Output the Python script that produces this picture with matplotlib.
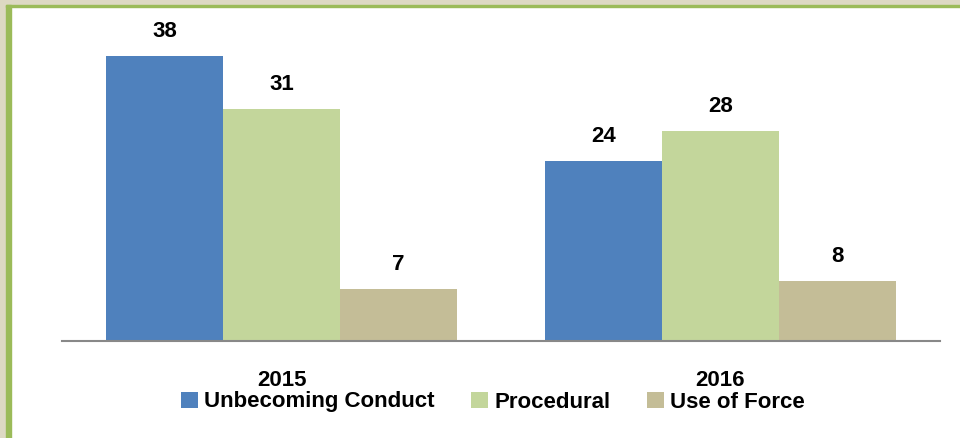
import numpy as np
import matplotlib.pyplot as plt
from matplotlib.patches import Rectangle

years = ["2015", "2016"]
series = ["Unbecoming Conduct", "Procedural", "Use of Force"]
unbecoming = [38, 24]
procedural = [31, 28]
use_of_force = [7, 8]
values = [unbecoming, procedural, use_of_force]
colors = ["#4F81BD", "#C3D69B", "#C4BD97"]

plt.rcParams['font.family'] = ['Liberation Sans', 'DejaVu Sans']
fs = 16

fig = plt.figure(figsize=(9.6, 4.38), dpi=100)
fig.patch.set_facecolor("white")

# ---- frame strips (beige outside, green border) on top and left
fig.patches.append(Rectangle((0, 1 - 5/438), 1, 5/438, transform=fig.transFigure,
                             color="#DDD9C3", zorder=0))
fig.patches.append(Rectangle((0, 0), 6/960, 1, transform=fig.transFigure,
                             color="#DDD9C3", zorder=0))
fig.patches.append(Rectangle((6/960, 1 - 7/438), 1, 2/438, transform=fig.transFigure,
                             color="#9BBB59", zorder=0))
fig.patches.append(Rectangle((6/960, 0), 5/960, 1 - 5/438, transform=fig.transFigure,
                             color="#9BBB59", zorder=0))

ax = fig.add_axes([62/960, 97/438, 878/960, 300/438])
ax.set_facecolor("none")

x = np.arange(len(years))
w = 0.8 / 3
for i, (name, vals, c) in enumerate(zip(series, values, colors)):
    bars = ax.bar(x + (i - 1) * w, vals, w, color=c, label=name)
    ax.bar_label(bars, padding=10, fontsize=fs, fontweight="bold")

ax.set_xlim(-0.5, 1.5)
ax.set_ylim(0, 40)
ax.set_yticks([])
ax.set_xticks(x)
ax.set_xticklabels(years, fontsize=fs, fontweight="bold")
ax.tick_params(axis="x", length=0, pad=21)
for s in ["top", "right", "left"]:
    ax.spines[s].set_visible(False)
ax.spines["bottom"].set_color("#888888")
ax.spines["bottom"].set_linewidth(1.5)

fig.legend(loc="center", bbox_to_anchor=(493/960, 36/438), ncol=3, frameon=False,
           prop={"size": fs, "weight": "bold"}, handlelength=0.75, handleheight=0.75,
           handletextpad=0.28, columnspacing=1.65, borderaxespad=0)

plt.savefig("out.png", dpi=100)
